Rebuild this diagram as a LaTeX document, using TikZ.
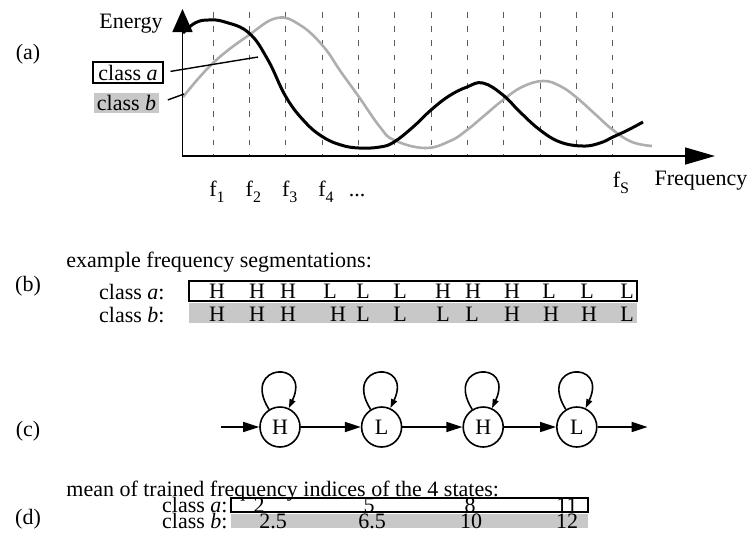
\documentclass[tikz,border=0pt]{standalone}
\usepackage{fontspec}
\setmainfont{Liberation Serif}
\usetikzlibrary{positioning,arrows.meta}
\definecolor{bfill}{HTML}{C8C8C8}
\definecolor{bcurve}{HTML}{AEAEAE}
\definecolor{gridgray}{HTML}{5A5A5A}
\newcommand{\fsub}[1]{f\raisebox{-3pt}{\footnotesize #1}}

\begin{document}
\begin{tikzpicture}[
  x=0.5pt,y=-0.5pt,
  font=\fontsize{11}{13}\selectfont,
  node distance=30pt,
  lbl/.style={inner sep=0pt,anchor=base},
  grid/.style={draw=gridgray,line width=0.5pt,dash pattern=on 2.8pt off 4.3pt},
  axis/.style={line width=0.8pt},
  curvea/.style={line width=1.5pt,draw=black},
  curveb/.style={line width=1.3pt,draw=bcurve},
  lead/.style={line width=0.7pt},
  rowbox/.style={draw,line width=0.7pt,inner sep=0pt},
  rowfill/.style={fill=bfill,inner sep=0pt},
  state/.style={circle,draw,line width=0.8pt,minimum size=20pt,inner sep=0pt},
  arr/.style={-{Triangle[length=8pt,width=5pt]},line width=0.8pt},
  looparr/.style={-{Triangle[length=4.5pt,width=3pt]},line width=0.8pt}
]
\useasboundingbox (0,0) rectangle (751,554);

% (a) spectra
\node[lbl] (parta) at (28,59) {(a)};
\node[lbl] (energy) at (131,28) {Energy};
\node[lbl] (freq) at (701,185) {Frequency};
\coordinate (origin) at (182.5,156);
\coordinate (ytip) at (182.5,9);
\coordinate (xtip) at (715,156);

\foreach \i in {0,...,11}
  \draw[grid] ({213+36.36*\i},12) -- ({213+36.36*\i},156);

\draw[curveb] plot[smooth,tension=0.7] coordinates {(183,97) (213,63) (249,35) (277,18) (300,25) (323,46) (341,72) (359,97) (380,127) (394,140) (425,148) (450,141) (467,130) (485,115) (503,100) (522,87) (543,81) (560,86) (576,97) (595,114) (613,130) (632,142) (652,146)};
\draw[curvea] plot[smooth,tension=0.7] coordinates {(183,33) (195,23) (208,20) (225,22) (249,33) (268,60) (286,97) (305,122) (323,137) (341,145) (359,148) (380,147) (394,142) (413,127) (431,110) (449,96) (467,87) (483,83) (503,95) (520,112) (540,130) (560,142) (583,146) (600,143) (613,137) (628,130) (643,122)};

\draw[axis,{Triangle[length=11.5pt,width=10pt]}-{Triangle[length=15pt,width=8.5pt]}] (ytip) -- (origin) -- (xtip);

\foreach \i/\t in {0/1,1/2,2/3,3/4}
  \node[lbl] (f\t) at ({217+36.36*\i},196) {\fsub{\t}};
\node[lbl] (fdots) at (357,196) {...};
\node[lbl] (fs) at (621,187) {\fsub{S}};

\node[draw,line width=0.6pt,minimum width=35pt,minimum height=10.5pt,inner sep=0pt] (lega) at (128,72.5) {class \textit{a}};
\node[fill=bfill,minimum width=32.5pt,minimum height=10pt,inner sep=0pt] (legb) at (126.5,103) {class \textit{b}};
\coordinate (ona) at (258,57);
\coordinate (onb) at (184,94);
\draw[lead,shorten <=3.5pt] (lega.east) -- (ona);
\draw[lead,shorten <=4.5pt] (legb.east) -- (onb);

% (b) segmentations
\node[lbl] (partb) at (28,291) {(b)};
\node[lbl,anchor=base west] (segtitle) at (66,267) {example frequency segmentations:};
\node[lbl,anchor=base east] (sega) at (165,299) {class \textit{a}:};
\node[lbl,anchor=base east] (segb) at (165,322) {class \textit{b}:};
\node[rowbox,minimum width=224pt,minimum height=10pt] (rowa) at (413,291) {};
\node[rowfill,minimum width=224pt,minimum height=10pt] (rowb) at (413,313) {};
\foreach \x/\s in {217/H,257/H,288/H,330/L,363/L,400/L,443/H,473/H,512/H,549/L,587/L,627/L}
  \node[lbl] at (\x,298) {\s};
\foreach \x/\s in {217/H,257/H,288/H,338/H,363/L,400/L,443/L,472/L,512/H,551/H,589/H,627/L}
  \node[lbl] at (\x,321) {\s};

% (c) HMM
\node[lbl] (partc) at (28,436) {(c)};
\node[state] (s1) at (280,427) {H};
\node[state,right=of s1] (s2) {L};
\node[state,right=of s2] (s3) {H};
\node[state,right=26pt of s3] (s4) {L};
\coordinate[left=19pt of s1] (cin);
\coordinate[right=25pt of s4] (cout);
\draw[arr] (cin) -- (s1);
\draw[arr] (s1) -- (s2);
\draw[arr] (s2) -- (s3);
\draw[arr] (s3) -- (s4);
\draw[arr] (s4) -- (cout);
\foreach \s in {s1,s2,s3,s4}
  \draw[looparr] (\s) to[out=122,in=65,looseness=7] (\s);

% (d) trained means
\node[lbl] (partd) at (28,524) {(d)};
\node[lbl,anchor=base west] (meantitle) at (66,496) {mean of trained frequency indices of the 4 states:};
\node[lbl,anchor=base east] (meana) at (228,512) {class \textit{a}:};
\node[lbl,anchor=base east] (meanb) at (228,528) {class \textit{b}:};
\node[rowbox,minimum width=178.5pt,minimum height=7pt] (mrowa) at (409.5,505) {};
\node[rowfill,minimum width=178.5pt,minimum height=7pt] (mrowb) at (409.5,521) {};
\foreach \x/\v in {259/2,369/5,470/8,567/11}
  \node[lbl] at (\x,512) {\v};
\foreach \x/\v in {273/2.5,372/6.5,471/10,567/12}
  \node[lbl] at (\x,528) {\v};
\end{tikzpicture}
\end{document}
